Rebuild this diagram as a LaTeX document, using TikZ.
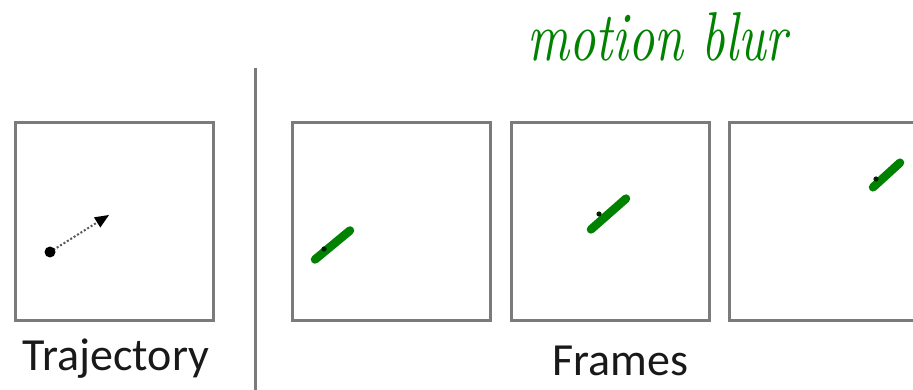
\documentclass[tikz,border=0pt]{standalone}
\usepackage{fontspec}
\setmainfont{Carlito}
\newfontfamily\handfont{Latin Modern Roman}
\usetikzlibrary{arrows.meta,calc}
\definecolor{frameGray}{RGB}{125,122,125}
\definecolor{blurGreen}{RGB}{0,130,0}
\tikzset{
  panel/.style={draw=frameGray, line width=3pt, minimum width=198pt, minimum height=198pt, inner sep=0pt, fill=white},
  caption/.style={font=\fontsize{46}{50}\selectfont, text=black!90, anchor=base, inner sep=0pt},
  blur/.style={draw=blurGreen, line width=8.5pt, line cap=round},
  blurcore/.style={fill=black!75!blurGreen, draw=none},
}
\begin{document}
\begin{tikzpicture}[x=1pt,y=-1pt]
\useasboundingbox (0,0) rectangle (913,390);
\clip (0,0) rectangle (913,390);
% divider
\coordinate (divtop) at (255,68);
\coordinate (divbot) at (255,392);
\draw[frameGray, line width=3pt] (divtop) -- (divbot);
% panels
\node[panel] (traj) at (114.5,221.5) {};
\node[panel] (f1) at (391,221.5) {};
\node[panel] (f2) at (610.5,221.5) {};
\node[panel] (f3) at (828.5,221.5) {};
% captions
\node[caption] (trajlbl) at (116,370) {Trajectory};
\node[caption] (framelbl) at (620,375) {Frames};
% trajectory arrow
\coordinate (tstart) at (50,252);
\coordinate (tend) at (109,215);
\coordinate (thbase) at ($(tend)!14pt!(tstart)$);
\coordinate (thl) at ($(thbase)!6pt!90:(tend)$);
\coordinate (thr) at ($(thbase)!6pt!-90:(tend)$);
\draw[black!65, line width=2pt, dotted] (tstart) -- (thbase);
\fill[black] (tend) -- (thl) -- (thr) -- cycle;
\fill[black] (tstart) circle (5.5pt);
% blur strokes
\coordinate (b1s) at (315,259.5); \coordinate (b1e) at (350,230.5);
\coordinate (b2s) at (591,229.4); \coordinate (b2e) at (626,198.6);
\coordinate (b3s) at (873,187.3); \coordinate (b3e) at (900,162.7);
\draw[blur] (b1s) -- (b1e);
\draw[blur] (b2s) -- (b2e);
\draw[blur] (b3s) -- (b3e);
\fill[blurcore] (324,249) circle (2.6pt);
\fill[blurcore] (599,214) circle (2.6pt);
\fill[blurcore] (876,179) circle (2.6pt);
% handwritten note
\node[anchor=base west, inner sep=0pt, text=blurGreen] (note) at (527,61)
  {\resizebox{260pt}{48pt}{\handfont\itshape motion blur}};
\end{tikzpicture}
\end{document}
